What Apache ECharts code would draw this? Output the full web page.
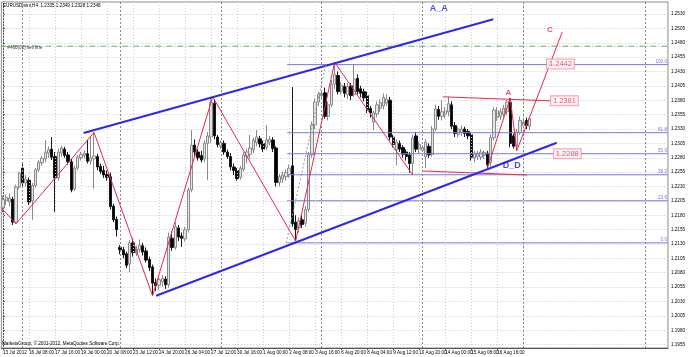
<!DOCTYPE html>
<html><head><meta charset="utf-8">
<script src="https://cdn.jsdelivr.net/npm/echarts@6/dist/echarts.min.js"></script>
<style>html,body{margin:0;padding:0;background:#fff}#c{width:688px;height:357px}</style>
</head><body><div id="c"></div>
<script>
const symbolTitle = 'EURUSDmini,H4  1.2335 1.2349 1.2328 1.2348';
const copyright = 'MarketsGroup, \u00a9 2001-2012, MetaQuotes Software Corp.';
const timeLabels = ["13 Jul 2012","16 Jul 08:00","17 Jul 16:00","19 Jul 00:00","20 Jul 08:00","23 Jul 12:00","24 Jul 20:00","26 Jul 04:00","27 Jul 12:00","30 Jul 16:00","1 Aug 00:00","2 Aug 08:00","3 Aug 16:00","6 Aug 20:00","8 Aug 04:00","9 Aug 12:00","10 Aug 20:00","14 Aug 00:00","15 Aug 08:00","16 Aug 16:00","19 Aug 22:00"];
const priceTicks = [1.1955,1.1980,1.2005,1.2030,1.2055,1.2080,1.2105,1.2130,1.2155,1.2180,1.2205,1.2230,1.2255,1.2280,1.2305,1.2330,1.2355,1.2380,1.2405,1.2430,1.2455,1.2480,1.2505,1.2530];
const lastPrice = 1.2348;

// OHLC bars as [open, close, low, high], one array per trading week
const week0 = [
 [1.2193,1.2207,1.2185,1.2214],[1.2205,1.2211,1.2198,1.2216],[1.2203,1.2210,1.2195,1.2218],
 [1.2208,1.2168,1.2163,1.2212],[1.2168,1.2229,1.2165,1.2233],[1.2229,1.2253,1.2225,1.2256]];
const week1 = [
 [1.2262,1.2236,1.2230,1.2270],[1.2236,1.2243,1.2230,1.2250],[1.2241,1.2203,1.2198,1.2246],
 [1.2205,1.2232,1.2172,1.2236],[1.2232,1.2259,1.2228,1.2262],[1.2259,1.2272,1.2255,1.2276],
 [1.2271,1.2279,1.2266,1.2283],[1.2278,1.2290,1.2272,1.2311],[1.2288,1.2294,1.2280,1.2300],
 [1.2295,1.2281,1.2276,1.2316],[1.2282,1.2245,1.2186,1.2290],[1.2245,1.2290,1.2240,1.2296],
 [1.2288,1.2297,1.2282,1.2301],[1.2295,1.2284,1.2280,1.2299],[1.2285,1.2273,1.2268,1.2290],
 [1.2273,1.2224,1.2220,1.2278],[1.2226,1.2262,1.2222,1.2266],[1.2262,1.2281,1.2258,1.2285],
 [1.2280,1.2286,1.2275,1.2290],[1.2284,1.2288,1.2279,1.2293],[1.2287,1.2274,1.2270,1.2311],
 [1.2274,1.2280,1.2268,1.2318],[1.2278,1.2283,1.2226,1.2324],[1.2282,1.2264,1.2258,1.2287],
 [1.2265,1.2256,1.2252,1.2270],[1.2258,1.2250,1.2245,1.2266],[1.2251,1.2246,1.2240,1.2258],
 [1.2247,1.2195,1.2190,1.2254],[1.2196,1.2172,1.2168,1.2200],[1.2173,1.2155,1.2143,1.2178]];
const week2 = [
 [1.2124,1.2120,1.2112,1.2128],[1.2120,1.2111,1.2105,1.2125],[1.2113,1.2093,1.2088,1.2117],
 [1.2095,1.2132,1.2081,1.2137],[1.2132,1.2115,1.2108,1.2140],[1.2114,1.2121,1.2109,1.2127],
 [1.2120,1.2128,1.2115,1.2138],[1.2127,1.2116,1.2110,1.2132],[1.2118,1.2102,1.2098,1.2124],
 [1.2103,1.2089,1.2083,1.2108],[1.2090,1.2062,1.2040,1.2094],[1.2063,1.2057,1.2048,1.2070],
 [1.2058,1.2068,1.2050,1.2072],[1.2064,1.2070,1.2055,1.2076],[1.2069,1.2059,1.2052,1.2074],
 [1.2059,1.2142,1.2054,1.2150],[1.2140,1.2124,1.2118,1.2152],[1.2124,1.2160,1.2120,1.2168],
 [1.2158,1.2142,1.2135,1.2163],[1.2144,1.2140,1.2125,1.2150],[1.2139,1.2155,1.2134,1.2160],
 [1.2155,1.2224,1.2150,1.2228],[1.2224,1.2302,1.2220,1.2328],[1.2302,1.2290,1.2282,1.2312],
 [1.2290,1.2280,1.2275,1.2295],[1.2284,1.2276,1.2272,1.2292],[1.2278,1.2305,1.2272,1.2310],
 [1.2305,1.2318,1.2241,1.2325],[1.2316,1.2376,1.2305,1.2386],[1.2375,1.2318,1.2312,1.2382],
 [1.2316,1.2303,1.2298,1.2320]];
const week3 = [
 [1.2300,1.2306,1.2295,1.2310],[1.2305,1.2290,1.2285,1.2310],[1.2290,1.2282,1.2278,1.2294],
 [1.2282,1.2264,1.2258,1.2288],[1.2264,1.2258,1.2250,1.2270],[1.2258,1.2244,1.2240,1.2262],
 [1.2246,1.2262,1.2242,1.2266],[1.2260,1.2285,1.2256,1.2290],[1.2282,1.2290,1.2270,1.2296],
 [1.2286,1.2297,1.2278,1.2320],[1.2294,1.2311,1.2288,1.2315],[1.2306,1.2316,1.2300,1.2328],
 [1.2313,1.2304,1.2298,1.2318],[1.2305,1.2295,1.2290,1.2310],[1.2298,1.2311,1.2293,1.2337],
 [1.2307,1.2312,1.2302,1.2318],[1.2311,1.2296,1.2290,1.2316],[1.2297,1.2237,1.2230,1.2300],
 [1.2237,1.2247,1.2230,1.2252],[1.2243,1.2250,1.2236,1.2256],[1.2247,1.2254,1.2240,1.2260],
 [1.2251,1.2262,1.2245,1.2268],[1.2266,1.2165,1.2160,1.2403],[1.2168,1.2155,1.2135,1.2180],
 [1.2158,1.2170,1.2150,1.2176],[1.2172,1.2164,1.2158,1.2180],[1.2166,1.2190,1.2160,1.2196],
 [1.2190,1.2285,1.2185,1.2290],[1.2285,1.2337,1.2280,1.2343],[1.2337,1.2377,1.2330,1.2383],
 [1.2377,1.2390,1.2370,1.2395]];
const week4 = [
 [1.2388,1.2392,1.2384,1.2396],[1.2393,1.2352,1.2348,1.2402],[1.2352,1.2372,1.2345,1.2378],
 [1.2372,1.2408,1.2368,1.2415],[1.2408,1.2425,1.2400,1.2446],[1.2423,1.2395,1.2390,1.2430],
 [1.2396,1.2406,1.2390,1.2412],[1.2404,1.2392,1.2385,1.2410],[1.2390,1.2404,1.2382,1.2410],
 [1.2405,1.2388,1.2380,1.2410],[1.2390,1.2417,1.2386,1.2442],[1.2418,1.2395,1.2390,1.2425],
 [1.2400,1.2392,1.2385,1.2405],[1.2395,1.2384,1.2378,1.2400],[1.2388,1.2363,1.2358,1.2395],
 [1.2366,1.2358,1.2350,1.2370],[1.2342,1.2358,1.2328,1.2362],[1.2356,1.2372,1.2350,1.2378],
 [1.2366,1.2376,1.2360,1.2382],[1.2370,1.2385,1.2364,1.2392],[1.2375,1.2382,1.2370,1.2390],
 [1.2380,1.2316,1.2310,1.2386],[1.2316,1.2303,1.2298,1.2320],[1.2294,1.2307,1.2267,1.2312],
 [1.2305,1.2295,1.2290,1.2310],[1.2298,1.2286,1.2280,1.2302],[1.2290,1.2282,1.2275,1.2295],
 [1.2285,1.2270,1.2254,1.2290],[1.2270,1.2314,1.2250,1.2320],[1.2318,1.2295,1.2290,1.2325],
 [1.2295,1.2303,1.2288,1.2308]];
const week5 = [
 [1.2293,1.2298,1.2290,1.2302],[1.2282,1.2307,1.2262,1.2312],[1.2300,1.2285,1.2280,1.2305],
 [1.2286,1.2330,1.2282,1.2335],[1.2330,1.2365,1.2326,1.2372],[1.2364,1.2352,1.2346,1.2370],
 [1.2352,1.2360,1.2345,1.2380],[1.2356,1.2362,1.2348,1.2368],[1.2360,1.2374,1.2352,1.2386],
 [1.2372,1.2335,1.2330,1.2378],[1.2336,1.2322,1.2316,1.2342],[1.2320,1.2330,1.2315,1.2334],
 [1.2324,1.2330,1.2318,1.2336],[1.2330,1.2322,1.2316,1.2334],[1.2326,1.2318,1.2312,1.2330],
 [1.2320,1.2281,1.2275,1.2324],[1.2280,1.2288,1.2272,1.2292],[1.2282,1.2288,1.2276,1.2292],
 [1.2281,1.2290,1.2276,1.2295],[1.2284,1.2289,1.2278,1.2293],[1.2288,1.2268,1.2262,1.2292],
 [1.2272,1.2315,1.2265,1.2320],[1.2315,1.2363,1.2310,1.2368],[1.2350,1.2362,1.2344,1.2368],
 [1.2352,1.2360,1.2346,1.2366],[1.2356,1.2366,1.2350,1.2372],[1.2360,1.2377,1.2354,1.2380],
 [1.2376,1.2305,1.2298,1.2384],[1.2318,1.2300,1.2296,1.2322],[1.2300,1.2325,1.2292,1.2330],
 [1.2324,1.2345,1.2320,1.2352]];
const week6 = [
 [1.2336,1.2342,1.2330,1.2350],[1.2345,1.2336,1.2330,1.2350],[1.2335,1.2348,1.2328,1.2349]];

// drawn objects, as [bar index, price]
const zigzagMain = [[-0.5,1.2193],[4,1.2165],[28,1.2324],[46,1.2040],[64.5,1.2386],[90,1.2135],[102,1.2446],[126,1.2250]];
const zigzagABCD = [[149,1.2262],[156,1.2384],[158,1.2292]];
const projectionC = [[158,1.2292],[172,1.2499]];
const channelUpper = [[24.8,1.2323],[150.8,1.2521]];
const channelLower = [[47.1,1.2040],[170.3,1.2306]];
const resistanceA = [[135.3,1.2386],[168.2,1.2379]];
const supportD = [[129.2,1.2257],[161.2,1.2250]];
const fibAnchor = [[87.1,1.2132],[99.3,1.2442]];
const fibLow = 1.2132, fibHigh = 1.2442;
const fibLevels = [0.0, 23.6, 38.2, 50.0, 61.8, 100.0];
const fibStartBar = 87.4;
const sellLinePrice = 1.2474;
const sellLineName = '#460(02) sell line';
const weekStarts = [6, 36, 67, 98, 129, 160];
const extraVLine = [197.5];
const blueTexts = [{t:'A_A', x:134, y:1.2540}, {t:'D_D', x:156.5, y:1.2266}];
const redTexts = [{t:'A', x:155.4, y:1.2393}, {t:'C', x:168.2, y:1.2502}];
const priceBoxes = [{t:'1.2442', x:167.3, y:1.2443}, {t:'1.2381', x:168.5, y:1.2379}, {t:'1.2288', x:169.4, y:1.2287}];

const SLOTS = 205;
const bars = [].concat(week0, week1, week2, week3, week4, week5, week6);
const cats = [];
for (let i = 0; i < SLOTS; i++) cats.push(String(i));
const labelAt = i => (i % 8 === 0 && timeLabels[i / 8]) ? timeLabels[i / 8] : '';

const FONT = 'Liberation Sans, Arial, sans-serif';
const RED = '#e8284e', BLUE = '#2a2ae8', FIB = '#7a7ad8';
const XMIN = -0.5, XMAX = SLOTS - 0.5;

const gridLinesV = timeLabels.map((_, k) => ({xAxis: k * 8}));

const lineS = (pts, color, width, type, extra) => Object.assign({
  type: 'line', xAxisIndex: 1, yAxisIndex: 0, data: pts, symbol: 'none', silent: true,
  animation: false, lineStyle: {color: color, width: width, type: type || 'solid'}, z: 5
}, extra || {});

const fibRange = fibHigh - fibLow;
const fibSeries = fibLevels.map(r => lineS(
  [[fibStartBar, fibLow + fibRange * r / 100], [XMAX, fibLow + fibRange * r / 100]], FIB, 1, 'solid', {z: 4}));
const fibLabelData = fibLevels.map(r => ({value: [XMAX, fibLow + fibRange * r / 100], label: {formatter: r.toFixed(1)}}));

const option = {
  animation: false,
  backgroundColor: '#ffffff',
  title: [
    {text: symbolTitle, left: 3, top: 3, padding: 0, textStyle: {fontSize: 4.6, fontWeight: 'normal', color: '#000', fontFamily: FONT}},
    {text: copyright, left: 2, bottom: 11, padding: 0, textStyle: {fontSize: 4.6, fontWeight: 'normal', color: '#000', fontFamily: FONT}}
  ],
  grid: {left: 0, right: 16, top: 2, bottom: 9, show: true, borderColor: '#8c8c8c', borderWidth: 1, backgroundColor: '#fff'},
  xAxis: [
    {type: 'category', data: cats, boundaryGap: true,
     axisLine: {show: true, lineStyle: {color: '#555'}},
     axisTick: {show: true, alignWithLabel: true, interval: i => i % 8 === 0 && i / 8 < timeLabels.length, length: 2, lineStyle: {color: '#555'}},
     axisLabel: {interval: i => i % 8 === 0 && i / 8 < timeLabels.length, formatter: (v, i) => labelAt(+v), fontSize: 4.6, color: '#000', fontFamily: FONT, align: 'left', margin: 2},
     splitLine: {show: false}},
    {type: 'value', min: XMIN, max: XMAX, show: false}
  ],
  yAxis: [{
    type: 'value', position: 'right', min: 1.194913, max: 1.255087, scale: true,
    axisLine: {show: true, lineStyle: {color: '#555'}},
    axisTick: {show: true, length: 2, customValues: priceTicks, lineStyle: {color: '#555'}},
    axisLabel: {customValues: priceTicks, formatter: v => v.toFixed(4), fontSize: 4.6, color: '#000', fontFamily: FONT, margin: 3},
    splitLine: {show: true, lineStyle: {color: '#c8c8c8', type: [1, 2], width: 1}}
  }],
  series: [
    {type: 'candlestick', xAxisIndex: 0, yAxisIndex: 0, data: bars, barWidth: 2.8, z: 3,
     itemStyle: {color: '#e6e6e6', color0: '#000000', borderColor: '#8a8a8a', borderColor0: '#1a1a1a', borderWidth: 1},
     markLine: {silent: true, symbol: ['none', 'none'], animation: false,
       lineStyle: {opacity: 0},
       label: {show: true, position: 'end', distance: 1, formatter: lastPrice.toFixed(4), backgroundColor: '#000', color: '#fff', fontSize: 4.6, fontFamily: FONT, padding: [1, 2, 0, 2]},
       data: [{yAxis: lastPrice}]}},
    lineS(zigzagMain, RED, 1, 'solid', {
      markLine: {silent: true, symbol: ['none', 'none'], animation: false, label: {show: false},
        data: gridLinesV.map(d => Object.assign({lineStyle: {color: '#cfcfcf', type: [1, 2], width: 1}}, d))
          .concat(weekStarts.map(b => ({xAxis: b, lineStyle: {color: '#8a8a8a', type: [2, 2], width: 1}})))
          .concat(extraVLine.map(b => ({xAxis: b, lineStyle: {color: '#8a8a8a', type: [2, 2], width: 1}})))}}),
    lineS(zigzagABCD, RED, 1),
    lineS(projectionC, RED, 1),
    lineS(resistanceA, RED, 1),
    lineS(supportD, RED, 1),
    lineS(channelUpper, BLUE, 2),
    lineS(channelLower, BLUE, 2),
    lineS(fibAnchor, '#9a9a9a', 1, [2, 2]),
    ...fibSeries,
    lineS([[XMIN, sellLinePrice], [XMAX, sellLinePrice]], '#6aa86a', 1, [6, 2, 1, 2], {z: 4}),
    {type: 'scatter', xAxisIndex: 1, yAxisIndex: 0, symbolSize: 0, silent: true, z: 8,
     data: [{value: [XMIN, sellLinePrice], label: {formatter: sellLineName}}],
     label: {show: true, position: 'insideTopLeft', offset: [1, -6], color: '#000', fontSize: 4.6, fontFamily: FONT}},
    {type: 'scatter', xAxisIndex: 1, yAxisIndex: 0, symbolSize: 0, silent: true, z: 8,
     data: fibLabelData,
     label: {show: true, position: 'left', distance: 0, offset: [-1, -3], color: '#5050c8', fontSize: 4.6, fontFamily: FONT}},
    {type: 'scatter', xAxisIndex: 1, yAxisIndex: 0, symbolSize: 0, silent: true, z: 8,
     data: blueTexts.map(d => ({value: [d.x, d.y], label: {formatter: d.t}})),
     label: {show: true, position: 'inside', color: '#1c1cc8', fontWeight: 'bold', fontSize: 9, fontFamily: FONT}},
    {type: 'scatter', xAxisIndex: 1, yAxisIndex: 0, symbolSize: 0, silent: true, z: 8,
     data: redTexts.map(d => ({value: [d.x, d.y], label: {formatter: d.t}})),
     label: {show: true, position: 'inside', color: RED, fontWeight: 'bold', fontSize: 8, fontFamily: FONT}},
    {type: 'scatter', xAxisIndex: 1, yAxisIndex: 0, symbolSize: 0, silent: true, z: 9,
     data: priceBoxes.map(d => ({value: [d.x, d.y], label: {formatter: d.t}})),
     label: {show: true, position: 'right', distance: 0, color: RED, fontSize: 7.5, fontFamily: FONT,
       backgroundColor: '#fff6f6', borderColor: '#f08c98', borderWidth: 1, padding: [1, 2, 0, 2]}}
  ]
};
const chart = echarts.init(document.getElementById('c'), null, {renderer: 'canvas'});
chart.setOption(option);
</script>
</body></html>
